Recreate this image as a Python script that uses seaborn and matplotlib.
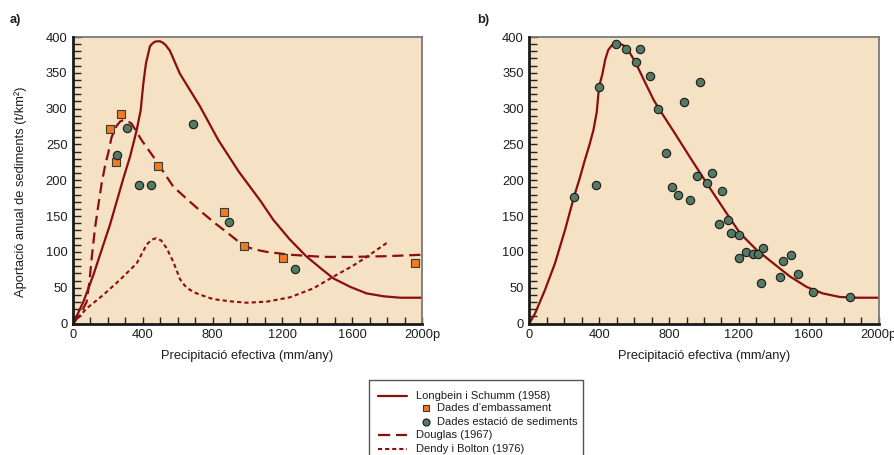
import numpy as np
import pandas as pd
import matplotlib
matplotlib.use("Agg")
import matplotlib.pyplot as plt
import seaborn as sns
from matplotlib.ticker import MultipleLocator, FixedLocator

# ---------------- data ----------------
x_major = [0, 400, 800, 1200, 1600, 2000]
x_labels = ["0", "400", "800", "1200", "1600", "2000p"]
y_major = [0, 50, 100, 150, 200, 250, 300, 350, 400]
y_labels = ["0", "50", "100", "150", "200", "250", "300", "350", "400"]

# panel a) Longbein i Schumm (1958)
ls_a_x = [0, 30, 59, 117, 174, 212, 250, 289, 327, 365, 388, 403, 418, 441, 455, 470,
          485, 499, 515, 530, 555, 612, 670, 728, 833, 950, 1072, 1147, 1240, 1336,
          1420, 1492, 1590, 1683, 1780, 1874, 1950, 2000]
ls_a_y = [0, 15, 30, 68, 110, 138, 170, 203, 233, 270, 298, 335, 363, 387, 391, 393.5,
          394, 394, 392, 389, 381, 349, 326, 303, 256, 212, 172, 145, 118, 94,
          77, 63, 51, 42, 38, 36, 36, 36]

# panel a) Douglas (1967)
dg_x = [0, 40, 78, 94, 107, 126, 145, 164, 185, 202, 221, 250, 270, 288, 310, 336, 393,
        460, 575, 661, 740, 814, 899, 980, 1050, 1110, 1245, 1435, 1600, 1800, 2000]
dg_y = [0, 12, 30, 58, 91, 133, 165, 195, 222, 238, 260, 276, 282, 284, 283, 279, 256,
        233, 191, 172, 155, 140, 124, 108, 103, 100, 96, 93, 93, 94, 96]

# panel a) Dendy i Bolton (1976)
db_x = [0, 78, 174, 269, 365, 422, 450, 476, 505, 537, 575, 613, 640, 670, 709, 766, 804,
        900, 995, 1110, 1244, 1377, 1511, 1600, 1683, 1807]
db_y = [0, 21, 40, 61, 84, 110, 117, 119, 116, 105, 86, 62, 53, 47, 42, 37, 34,
        31, 29, 30.5, 36.6, 49, 68, 80, 93, 114]

# panel a) Dades d'embassament
emb_x = [210, 245, 275, 487, 865, 980, 1203, 1960]
emb_y = [272, 226, 293, 220, 156, 108, 91, 84]

# panel a) Dades estació de sediments
est_a_x = [254, 311, 380, 447, 690, 896, 1270]
est_a_y = [235, 273, 193, 193, 278, 142, 76]

# panel b) Longbein i Schumm curve fitted
ls_b_x = [0, 33, 90, 147, 205, 256, 290, 319, 345, 367, 386, 399, 419, 434, 452, 475,
          500, 525, 548, 575, 605, 660, 710, 739, 824, 920, 1015, 1072, 1140, 1206,
          1300, 1397, 1490, 1588, 1680, 1778, 1880, 2000]
ls_b_y = [0, 14, 47, 84, 131, 177, 204, 229, 250, 270, 295, 330, 349, 368, 382, 389,
          391, 390, 387, 378, 366, 338, 313, 301, 269, 232, 196, 175, 150, 126,
          103, 84, 66, 51, 42, 37, 36, 36]

# panel b) Dades estació de sediments
est_b_x = [256, 382, 401, 498, 555, 609, 635, 693, 739, 781, 815, 849, 884, 918, 958,
           977, 1015, 1046, 1088, 1103, 1139, 1155, 1200, 1202, 1242, 1279, 1307,
           1325, 1340, 1433, 1450, 1496, 1536, 1624, 1837]
est_b_y = [177, 193, 330, 390, 383, 365, 383, 345, 300, 238, 190, 180, 309, 172, 206,
           337, 196, 210, 139, 185, 145, 127, 123, 92, 100, 97, 97,
           57, 106, 65, 87, 96, 69, 44, 37]

legend_labels = ["Longbein i Schumm (1958)", "Dades d\u2019embassament",
                 "Dades estació de sediments", "Douglas (1967)", "Dendy i Bolton (1976)"]
xlabel = "Precipitació efectiva (mm/any)"
ylabel = "Aportació anual de sediments (t/km\u00b2)"

# ---------------- style ----------------
sns.set_style("ticks")
plt.rcParams["font.family"] = ["Liberation Sans", "DejaVu Sans"]
plt.rcParams["font.size"] = 9.3

LINE = "#8b0e0e"
BG = "#f5e1c3"
ORANGE = "#f47a20"
GREEN = "#557a64"
TXT = "#1e1e1e"

fig = plt.figure(figsize=(8.95, 4.55), dpi=100)
W, H = 895.0, 455.0
ax_a = fig.add_axes([73 / W, (H - 323.5) / H, 349 / W, 286.5 / H])
ax_b = fig.add_axes([529.3 / W, (H - 323.5) / H, 349.4 / W, 286.5 / H])


def style_axes(ax):
    ax.set_facecolor(BG)
    ax.set_xlim(0, 2000)
    ax.set_ylim(0, 400)
    ax.xaxis.set_major_locator(FixedLocator(x_major))
    ax.set_xticklabels(x_labels)
    ax.yaxis.set_major_locator(FixedLocator(y_major))
    ax.set_yticklabels(y_labels)
    ax.xaxis.set_minor_locator(MultipleLocator(100))
    ax.yaxis.set_minor_locator(MultipleLocator(10))
    ax.tick_params(axis="x", which="both", direction="in", length=5, width=1,
                   color="#222222", pad=4, labelsize=9.3, labelcolor=TXT,
                   top=False, bottom=True)
    ax.tick_params(axis="y", which="both", direction="in", length=6, width=1,
                   color="#222222", pad=4, labelsize=9.3, labelcolor=TXT,
                   left=True, right=False)
    for s in ["left", "bottom"]:
        ax.spines[s].set_linewidth(2.0)
        ax.spines[s].set_color("#1a1a1a")
        ax.spines[s].set_zorder(5)
    for s in ["top", "right"]:
        ax.spines[s].set_linewidth(1.3)
        ax.spines[s].set_color("#7a7a7a")
        ax.spines[s].set_visible(True)
    ax.set_xlabel(xlabel, fontsize=9.3, color=TXT)
    ax.xaxis.set_label_coords(0.5, -0.094)
    ax.set_ylabel("")


style_axes(ax_a)
style_axes(ax_b)

ax_a.set_ylabel(ylabel, fontsize=9.3, color=TXT)
ax_a.yaxis.set_label_coords(-0.132, 0.46)

# ---- panel a ----
sns.lineplot(x=ls_a_x, y=ls_a_y, ax=ax_a, color=LINE, lw=1.6, sort=False, estimator=None)
sns.lineplot(x=dg_x, y=dg_y, ax=ax_a, color=LINE, lw=1.6, sort=False, estimator=None,
             linestyle=(0, (5, 2.6)))
sns.lineplot(x=db_x, y=db_y, ax=ax_a, color=LINE, lw=1.5, sort=False, estimator=None,
             linestyle=(0, (2.0, 1.5)))
sns.scatterplot(x=emb_x, y=emb_y, ax=ax_a, marker="s", s=28, color=ORANGE,
                edgecolor="#3a3a3a", linewidth=0.8, zorder=4)
sns.scatterplot(x=est_a_x, y=est_a_y, ax=ax_a, marker="o", s=36, color=GREEN,
                edgecolor="#1a1a1a", linewidth=0.8, zorder=4)

# ---- panel b ----
sns.lineplot(x=ls_b_x, y=ls_b_y, ax=ax_b, color=LINE, lw=1.6, sort=False, estimator=None)
sns.scatterplot(x=est_b_x, y=est_b_y, ax=ax_b, marker="o", s=36, color=GREEN,
                edgecolor="#1a1a1a", linewidth=0.8, zorder=4)

for ax in (ax_a, ax_b):
    if ax.get_legend() is not None:
        ax.get_legend().remove()

fig.text(10 / W, 1 - 20 / H, "a)", fontsize=9.3, fontweight="bold", va="center",
         ha="left", color=TXT)
fig.text(477 / W, 1 - 20 / H, "b)", fontsize=9.3, fontweight="bold", va="center",
         ha="left", color=TXT)

# ---- legend (custom box) ----
lax = fig.add_axes([369 / W, 0, 214 / W, 76 / H])
lax.set_xlim(0, 214)
lax.set_ylim(0, 76)
lax.axis("off")
lax.plot([0.5, 0.5, 213.5, 213.5], [-5, 75.5, 75.5, -5], color="#555555", lw=1.0,
         clip_on=False)
rows = [59.3, 46.7, 33.3, 20.0, 5.7]
lax.plot([9, 38], [rows[0], rows[0]], color=LINE, lw=1.6)
lax.plot([9, 38], [rows[3], rows[3]], color=LINE, lw=1.6, linestyle=(0, (5.5, 2.6)))
lax.plot([9, 38], [rows[4], rows[4]], color=LINE, lw=1.5, linestyle=(0, (2.0, 1.4)))
lax.scatter([56.7], [rows[1]], marker="s", s=22, color=ORANGE, edgecolor="#3a3a3a",
            linewidth=0.8, zorder=3)
lax.scatter([56.7], [rows[2]], marker="o", s=26, color=GREEN, edgecolor="#1a1a1a",
            linewidth=0.8, zorder=3)
text_x = [47, 68, 68, 47, 47]
for lab, tx, ty in zip(legend_labels, text_x, rows):
    lax.text(tx, ty, lab, fontsize=8, va="center", ha="left", color=TXT)

fig.savefig("out.png", dpi=100, facecolor="white")
